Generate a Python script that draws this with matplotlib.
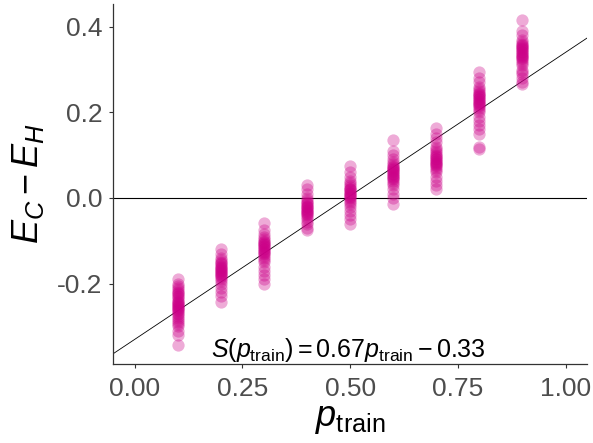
import matplotlib
matplotlib.use("Agg")
import matplotlib.pyplot as plt

plt.rcParams['font.family'] = ['Liberation Sans', 'DejaVu Sans']
plt.rcParams['mathtext.fontset'] = 'custom'
plt.rcParams['mathtext.rm'] = 'Liberation Sans'
plt.rcParams['mathtext.it'] = 'Liberation Sans:italic'
plt.rcParams['axes.unicode_minus'] = False

# valores
p_vals = [0.1, 0.2, 0.3, 0.4, 0.5, 0.6, 0.7, 0.8, 0.9]
d01 = [-0.19, -0.20, -0.205, -0.21, -0.215, -0.22, -0.222, -0.225, -0.23, -0.232, -0.235,
       -0.24, -0.242, -0.245, -0.248, -0.25, -0.252, -0.255, -0.258, -0.26, -0.262, -0.265,
       -0.268, -0.27, -0.275, -0.28, -0.285, -0.29, -0.295, -0.30, -0.31, -0.32, -0.343]
d02 = [-0.12, -0.13, -0.14, -0.145, -0.15, -0.152, -0.155, -0.158, -0.16, -0.163, -0.165,
       -0.168, -0.17, -0.172, -0.175, -0.178, -0.18, -0.183, -0.185, -0.19, -0.195, -0.20,
       -0.21, -0.22, -0.23, -0.243]
d03 = [-0.058, -0.075, -0.085, -0.09, -0.095, -0.10, -0.102, -0.105, -0.108, -0.11, -0.113,
       -0.115, -0.118, -0.12, -0.123, -0.125, -0.128, -0.13, -0.135, -0.14, -0.145, -0.15,
       -0.16, -0.17, -0.18, -0.19, -0.20]
d04 = [0.03, 0.02, 0.01, 0.0, -0.005, -0.01, -0.012, -0.015, -0.018, -0.02, -0.022, -0.025,
       -0.028, -0.03, -0.032, -0.035, -0.038, -0.04, -0.045, -0.05, -0.055, -0.06, -0.07,
       -0.075]
d05 = [0.075, 0.06, 0.05, 0.04, 0.035, 0.03, 0.025, 0.022, 0.02, 0.018, 0.015, 0.012, 0.01,
       0.008, 0.005, 0.002, 0.0, -0.005, -0.01, -0.015, -0.02, -0.03, -0.04, -0.05, -0.06]
d06 = [0.135, 0.11, 0.10, 0.09, 0.085, 0.08, 0.075, 0.072, 0.07, 0.067, 0.065, 0.062, 0.06,
       0.057, 0.055, 0.052, 0.05, 0.047, 0.045, 0.04, 0.035, 0.03, 0.02, 0.01, 0.0, -0.015]
d07 = [0.164, 0.15, 0.14, 0.13, 0.12, 0.115, 0.11, 0.105, 0.10, 0.097, 0.095, 0.092, 0.09,
       0.087, 0.085, 0.082, 0.08, 0.077, 0.075, 0.07, 0.065, 0.06, 0.05, 0.04, 0.03, 0.02]
d08 = [0.295, 0.28, 0.27, 0.26, 0.255, 0.25, 0.245, 0.242, 0.24, 0.237, 0.235, 0.232, 0.23,
       0.227, 0.225, 0.222, 0.22, 0.217, 0.215, 0.21, 0.205, 0.20, 0.19, 0.18, 0.17, 0.16,
       0.15, 0.12, 0.115]
d09 = [0.415, 0.39, 0.38, 0.37, 0.365, 0.36, 0.357, 0.355, 0.352, 0.35, 0.347, 0.345, 0.342,
       0.34, 0.337, 0.335, 0.332, 0.33, 0.327, 0.325, 0.32, 0.315, 0.31, 0.30, 0.295, 0.29,
       0.28, 0.27, 0.265]
diffs = [d01, d02, d03, d04, d05, d06, d07, d08, d09]
slope = 0.67
intercept = -0.33

fig = plt.figure(figsize=(5.93, 4.43), dpi=100)
ax = fig.add_axes([0.191, 0.178, 0.799, 0.813])

for p, d in zip(p_vals, diffs):
    ax.scatter([p] * len(d), d, s=78, color='#cc0088', alpha=0.33, linewidths=0, zorder=3)

ax.axhline(0, color='black', linewidth=0.8, zorder=2)
ax.axline((0, intercept), slope=slope, color='black', linewidth=0.6, zorder=2)

ax.set_xlim(-0.05, 1.05)
ax.set_ylim(-0.388, 0.453)
ax.set_xticks([0.0, 0.25, 0.5, 0.75, 1.0])
ax.set_xticklabels(['0.00', '0.25', '0.50', '0.75', '1.00'])
ax.set_yticks([-0.2, 0.0, 0.2, 0.4])
ax.set_yticklabels(['-0.2', '0.0', '0.2', '0.4'])
ax.tick_params(labelsize=19, labelcolor='#4d4d4d', color='#333333', length=3, width=0.8, pad=6)
ax.tick_params(axis='y', pad=5)

for s in ['top', 'right']:
    ax.spines[s].set_visible(False)
for s in ['left', 'bottom']:
    ax.spines[s].set_color('#333333')
    ax.spines[s].set_linewidth(0.9)

ax.set_xlabel(r'$p_{\mathrm{train}}$', fontsize=26, labelpad=0)
ax.set_ylabel(r'$E_C - E_H$', fontsize=26, labelpad=8)

ax.text(0.495, -0.356, r'$S(p_{\mathrm{train}}) = 0.67p_{\mathrm{train}} - 0.33$',
        fontsize=18, ha='center', va='center')

fig.savefig('out.png', dpi=100)
